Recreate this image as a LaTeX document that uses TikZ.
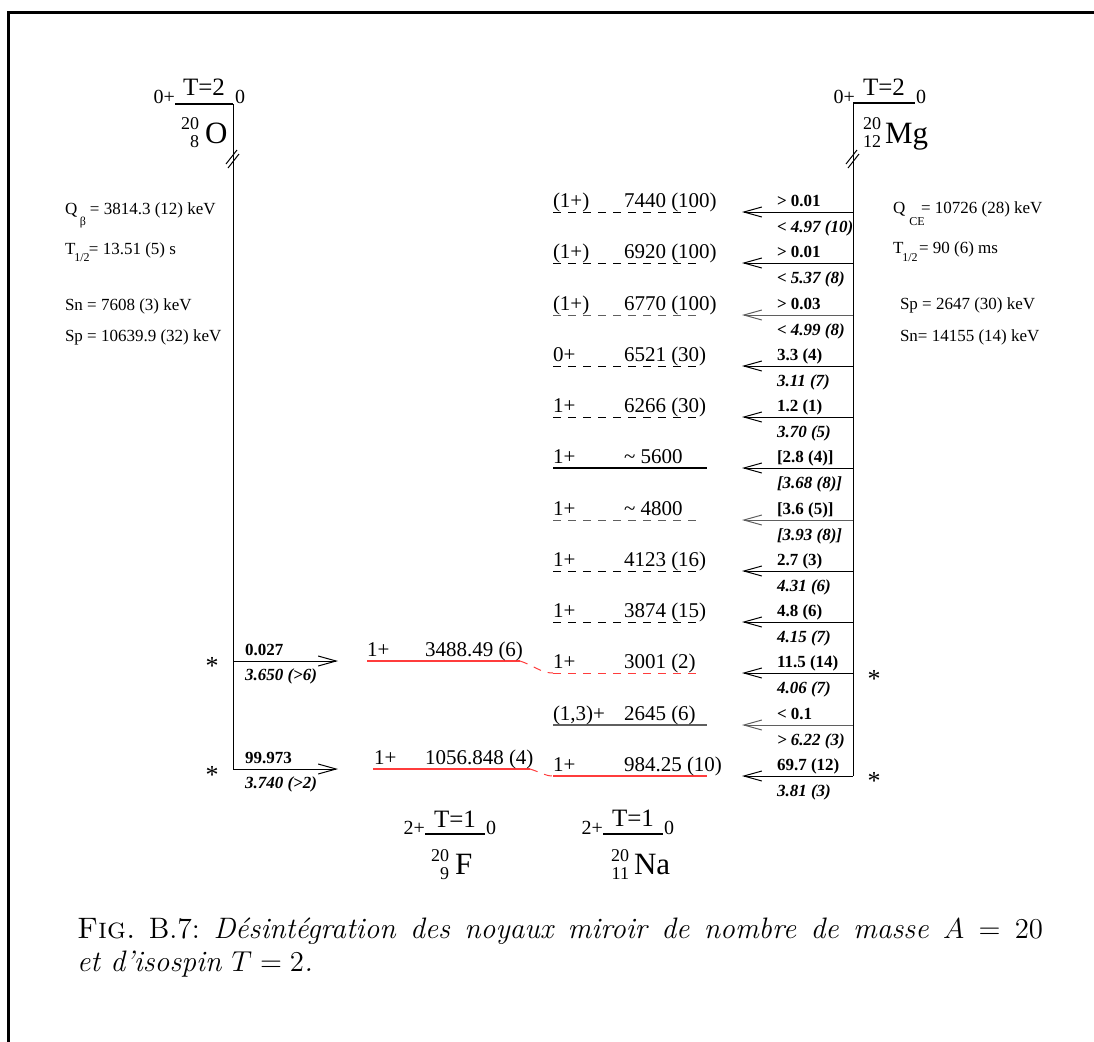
\documentclass[tikz,border=0pt]{standalone}
\usepackage{fontspec}
\newfontfamily\tms{Liberation Serif}
\usetikzlibrary{arrows.meta}
\definecolor{lvred}{RGB}{255,60,60}
\definecolor{lvgray}{RGB}{95,95,95}
\frenchspacing
\begin{document}
\begin{tikzpicture}[x=0.5pt,y=-0.5pt,
  every node/.style={inner sep=0pt,outer sep=0pt},
  lbl/.style={font=\tms\fontsize{10.5}{12}\selectfont,anchor=base west},
  brup/.style={font=\tms\bfseries\fontsize{8.5}{10}\selectfont,anchor=base west},
  brdn/.style={font=\tms\bfseries\itshape\fontsize{8.5}{10}\selectfont,anchor=base west},
  info/.style={font=\tms\fontsize{8.5}{10}\selectfont,anchor=base west},
  subtxt/.style={font=\tms\fontsize{6}{7}\selectfont},
  star/.style={font=\tms\fontsize{13}{14}\selectfont},
  jp/.style={font=\tms\fontsize{10}{11}\selectfont},
  iso/.style={font=\tms\fontsize{12.5}{14}\selectfont,anchor=base},
  elem/.style={font=\tms\fontsize{15.5}{17}\selectfont,anchor=base west},
  az/.style={font=\tms\fontsize{9}{10}\selectfont,anchor=east},
  gs/.style={line width=1.3pt},
  vline/.style={line width=0.5pt},
  garr/.style={line width=0.5pt,-{Straight Barb[length=9pt,width=5pt]}},
  dlev/.style={line width=0.5pt,dash pattern=on 4pt off 3.5pt},
  dlevg/.style={dlev,draw=lvgray},
  dlevr/.style={dlev,draw=lvred},
  slev/.style={line width=0.7pt},
  slevg/.style={slev,draw=lvgray},
  slevr/.style={slev,draw=lvred},
  brk/.style={line width=0.5pt}
]
\useasboundingbox (0,0) rectangle (1094,1041);
% frame
\draw[line width=1.3pt] (8.5,1045) -- (8.5,12.5) -- (1100,12.5);

% ---------- 20O ----------
\coordinate (otop) at (233,104);
\coordinate (obot) at (233,769);
\node[jp,anchor=base east] (o0p) at (175,103) {0+};
\draw[gs] (175,104) -- (otop);
\node[iso] (oT) at (204,95) {T=2};
\node[jp,anchor=base west] (o0) at (235,103) {0};
\node[elem] (oEl) at (205,143) {O};
\node[az] (oA) at (199,124) {20};
\node[az] (oZ) at (199,142) {8};
\draw[vline] (otop) -- (obot);
\draw[brk] (226,164) -- (237,150);
\draw[brk] (228,168) -- (239,154);

% O info
\node[info] (oQ) at (65,214) {Q};
\node[subtxt] (oQs) at (83,223) {β};
\node[info] (oQv) at (90,214) {= 3814.3 (12) keV};
\node[info] (oT1) at (65,254) {T};
\node[subtxt] (oT1s) at (82,258) {1/2};
\node[info] (oT1v) at (89,254) {= 13.51 (5) s};
\node[info] (oSn) at (65,310) {Sn = 7608 (3) keV};
\node[info] (oSp) at (65,341) {Sp = 10639.9 (32) keV};

% O -> F branches
\coordinate (ob1) at (233,661);
\coordinate (ob1t) at (338,661);
\coordinate (ob2t) at (338,769);
\draw[garr] (ob1) -- (ob1t);
\draw[garr] (obot) -- (ob2t);
\node[brup] (ou1) at (245,655.5) {0.027};
\node[brdn] (od1) at (245,680.5) {3.650 (>6)};
\node[brup] (ou2) at (245,763.5) {99.973};
\node[brdn] (od2) at (245,788.5) {3.740 (>2)};
\node[star] (os1) at (212,666) {*};
\node[star] (os2) at (212,775) {*};

% ---------- 20F ----------
\coordinate (f1l) at (367,661);
\coordinate (f1r) at (520,661);
\coordinate (f2l) at (373,769);
\coordinate (f2r) at (530,769);
\draw[slevr] (f1l) -- (f1r);
\draw[slevr] (f2l) -- (f2r);
\node[lbl] (fs1) at (367,656) {1+};
\node[lbl] (fe1) at (425,656) {3488.49 (6)};
\node[lbl] (fs2) at (374,764) {1+};
\node[lbl] (fe2) at (425,764) {1056.848 (4)};

\node[jp,anchor=base east] (f2p) at (425,834) {2+};
\draw[gs] (425,834) -- (485,834);
\node[iso] (fT) at (455,827) {T=1};
\node[jp,anchor=base west] (f0) at (486,834) {0};
\node[az] (fA) at (449,856) {20};
\node[az] (fZ) at (449,874) {9};
\node[elem] (fEl) at (455,874) {F};

% ---------- 20Mg ----------
\coordinate (mtop) at (853,103);
\coordinate (mbot) at (853,776);
\node[jp,anchor=base east] (m0p) at (855,103) {0+};
\draw[gs] (mtop) -- (915,103);
\node[iso] (mT) at (884,95) {T=2};
\node[jp,anchor=base west] (m0) at (916,103) {0};
\node[az] (mA) at (881,124) {20};
\node[az] (mZ) at (881,142) {12};
\node[elem] (mEl) at (885,143) {Mg};
\draw[vline] (mtop) -- (mbot);
\draw[brk] (846,164) -- (857,150);
\draw[brk] (848,168) -- (859,154);

% Mg info
\node[info] (mQ) at (893,213) {Q};
\node[subtxt] (mQs) at (917,222) {CE};
\node[info] (mQv) at (921,213) {= 10726 (28) keV};
\node[info] (mT1) at (893,253) {T};
\node[subtxt] (mT1s) at (910,258) {1/2};
\node[info] (mT1v) at (919,253) {= 90 (6) ms};
\node[info] (mSp) at (900,309) {Sp = 2647 (30) keV};
\node[info] (mSn) at (900,341) {Sn= 14155 (14) keV};

% ---------- 20Na levels ----------
\foreach \y/\nm/\sp/\en/\up/\dn/\ls/\xr/\ac in {
 212/a/{(1+)}/{7440 (100)}/{> 0.01}/{< 4.97 (10)}/dlev/700/black,
 263/b/{(1+)}/{6920 (100)}/{> 0.01}/{< 5.37 (8)}/dlev/700/black,
 315/c/{(1+)}/{6770 (100)}/{> 0.03}/{< 4.99 (8)}/dlevg/700/lvgray,
 366/d/{0+}/{6521 (30)}/{3.3 (4)}/{3.11 (7)}/dlev/700/black,
 417/e/{1+}/{6266 (30)}/{1.2 (1)}/{3.70 (5)}/dlev/700/black,
 468/f/{1+}/{\textasciitilde{} 5600}/{[2.8 (4)]}/{[3.68 (8)]}/slev/707/black,
 520/g/{1+}/{\textasciitilde{} 4800}/{[3.6 (5)]}/{[3.93 (8)]}/dlevg/700/lvgray,
 571/h/{1+}/{4123 (16)}/{2.7 (3)}/{4.31 (6)}/dlev/700/black,
 622/i/{1+}/{3874 (15)}/{4.8 (6)}/{4.15 (7)}/dlev/700/black,
 673/j/{1+}/{3001 (2)}/{11.5 (14)}/{4.06 (7)}/dlevr/700/black,
 725/k/{(1,3)+}/{2645 (6)}/{< 0.1}/{> 6.22 (3)}/slevg/707/lvgray,
 776/l/{1+}/{984.25 (10)}/{69.7 (12)}/{3.81 (3)}/slevr/707/black}
{
 \coordinate (mg\nm) at (853,\y);
 \coordinate (tip\nm) at (742,\y);
 \coordinate (lvl\nm) at (553,\y);
 \coordinate (lvr\nm) at (\xr,\y);
 \draw[\ls] (lvl\nm) -- (lvr\nm);
 \draw[garr,draw=\ac] (mg\nm) -- (tip\nm);
 \node[lbl] (sp\nm) at (553,\y-5) {\sp};
 \node[lbl] (en\nm) at (624,\y-5) {\en};
 \node[brup] (up\nm) at (777,\y-5.5) {\up};
 \node[brdn] (dn\nm) at (777,\y+20) {\dn};
}
\node[star] (ms1) at (874,679) {*};
\node[star] (ms2) at (874,781) {*};

% F <-> Na correspondences
\draw[dlevr] (f1r) .. controls (535,666) and (541,673) .. (lvlj);
\draw[dlevr] (f2r) .. controls (540,772) and (545,776) .. (lvll);

\node[jp,anchor=base east] (n2p) at (603,834) {2+};
\draw[gs] (603,834) -- (663,834);
\node[iso] (nT) at (633,826) {T=1};
\node[jp,anchor=base west] (n0) at (664,834) {0};
\node[az] (nA) at (629,856) {20};
\node[az] (nZ) at (629,874) {11};
\node[elem] (nEl) at (634,874) {Na};

% caption
\node[anchor=base west,font=\fontsize{14.8}{18}\selectfont] (cap1) at (77,938)
  {\makebox[483pt][s]{\textsc{Fig.} B.7: \textit{Désintégration des noyaux miroir de nombre de masse $A=20$}}};
\node[anchor=base west,font=\fontsize{14.8}{18}\selectfont] (cap2) at (77,971)
  {\textit{et d'isospin $T=2$.}};
\end{tikzpicture}
\end{document}
